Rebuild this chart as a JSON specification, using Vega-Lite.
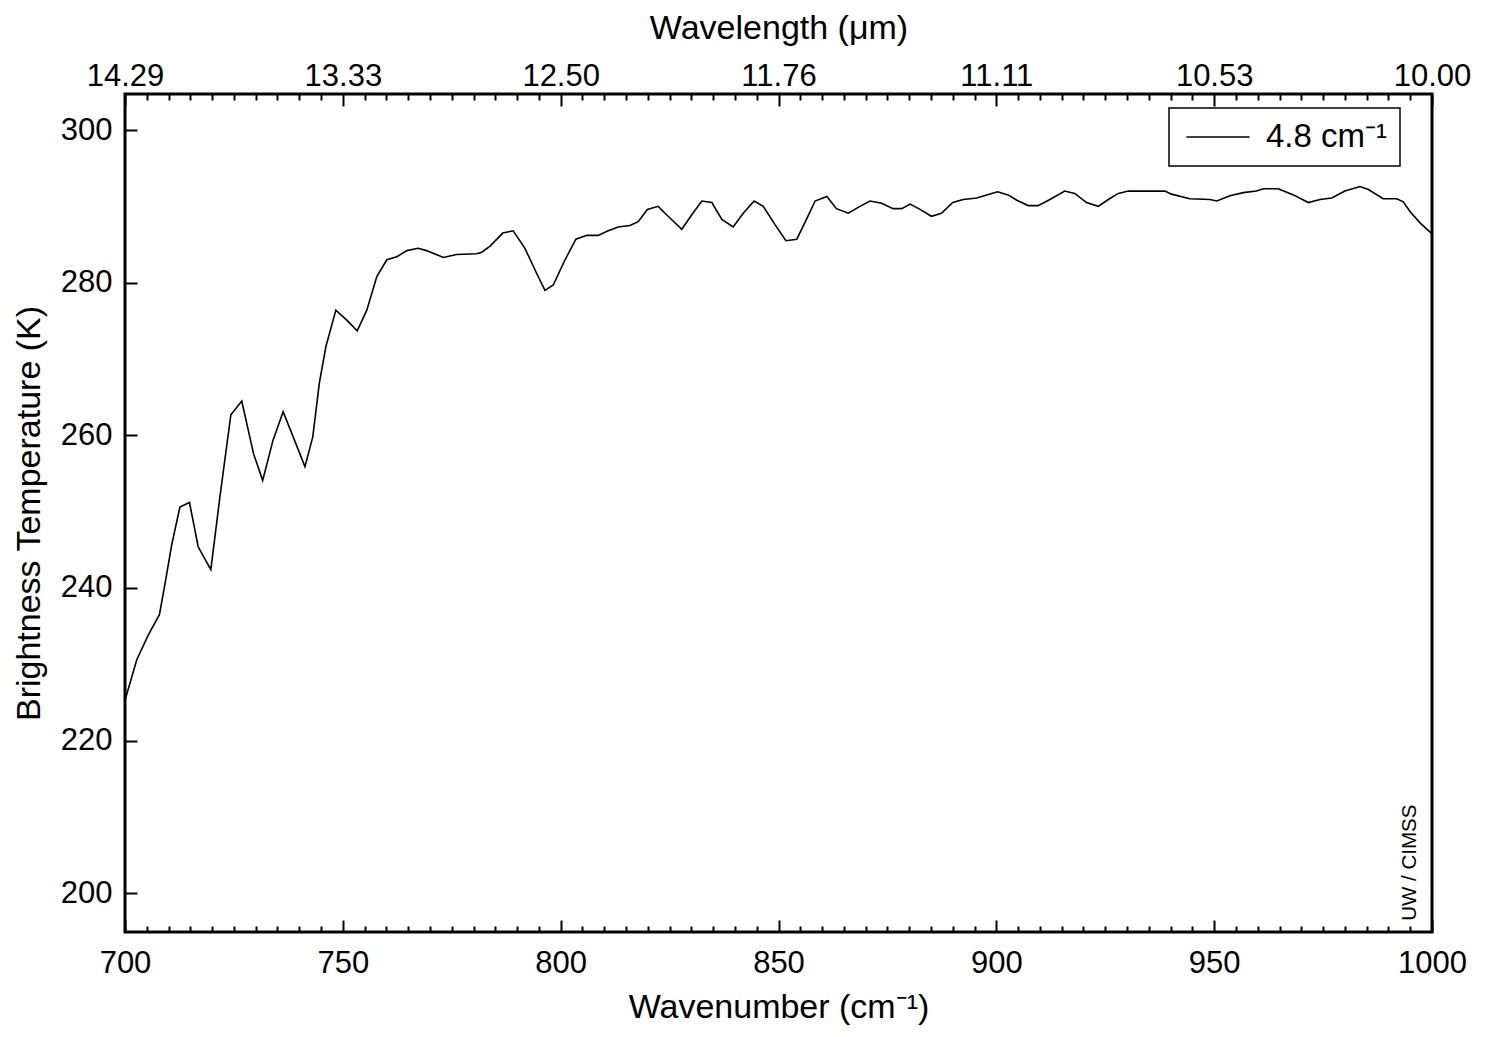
{
  "$schema": "https://vega.github.io/schema/vega-lite/v6.json",
  "width": 1307,
  "height": 838,
  "autosize": "none",
  "padding": {"left": 125, "top": 94, "right": 58, "bottom": 105},
  "background": "white",
  "config": {
    "view": {"stroke": "black", "strokeWidth": 3},
    "font": "Liberation Sans",
    "axis": {
      "grid": false,
      "domain": false,
      "tickColor": "black",
      "tickWidth": 2,
      "labelColor": "black",
      "labelFont": "Liberation Sans",
      "labelFontSize": 31,
      "labelFlush": false,
      "labelOverlap": false,
      "titleColor": "black",
      "titleFont": "Liberation Sans",
      "titleFontSize": 34,
      "titleFontWeight": "normal"
    }
  },
  "data": {
    "values": [
      {"wn": 700.0, "bt": 225.3}, {"wn": 702.7, "bt": 230.6}, {"wn": 705.3, "bt": 233.8},
      {"wn": 707.9, "bt": 236.5}, {"wn": 709.2, "bt": 240.6}, {"wn": 710.7, "bt": 245.6},
      {"wn": 712.6, "bt": 250.6}, {"wn": 714.8, "bt": 251.2}, {"wn": 716.8, "bt": 245.4},
      {"wn": 719.7, "bt": 242.4}, {"wn": 721.8, "bt": 252.0}, {"wn": 724.3, "bt": 262.7},
      {"wn": 726.8, "bt": 264.5}, {"wn": 729.5, "bt": 257.6}, {"wn": 731.6, "bt": 254.1},
      {"wn": 734.0, "bt": 259.4}, {"wn": 736.3, "bt": 263.1}, {"wn": 738.6, "bt": 259.8},
      {"wn": 741.3, "bt": 255.9}, {"wn": 743.1, "bt": 259.8}, {"wn": 744.6, "bt": 266.8},
      {"wn": 746.1, "bt": 271.6}, {"wn": 748.4, "bt": 276.4}, {"wn": 750.9, "bt": 275.1},
      {"wn": 753.3, "bt": 273.7}, {"wn": 755.5, "bt": 276.4}, {"wn": 757.8, "bt": 280.8},
      {"wn": 760.1, "bt": 283.0}, {"wn": 762.4, "bt": 283.4}, {"wn": 764.7, "bt": 284.2},
      {"wn": 767.3, "bt": 284.5}, {"wn": 769.2, "bt": 284.2}, {"wn": 773.1, "bt": 283.3},
      {"wn": 776.1, "bt": 283.7}, {"wn": 780.7, "bt": 283.8}, {"wn": 781.9, "bt": 284.0},
      {"wn": 783.8, "bt": 284.8}, {"wn": 786.7, "bt": 286.5}, {"wn": 789.1, "bt": 286.8},
      {"wn": 791.8, "bt": 284.5}, {"wn": 794.5, "bt": 281.2}, {"wn": 796.4, "bt": 279.0},
      {"wn": 798.3, "bt": 279.7}, {"wn": 801.0, "bt": 283.0}, {"wn": 803.5, "bt": 285.7},
      {"wn": 806.0, "bt": 286.2}, {"wn": 808.6, "bt": 286.2}, {"wn": 810.9, "bt": 286.8},
      {"wn": 813.2, "bt": 287.3}, {"wn": 815.9, "bt": 287.5}, {"wn": 817.8, "bt": 288.0},
      {"wn": 819.9, "bt": 289.6}, {"wn": 822.4, "bt": 290.0}, {"wn": 824.3, "bt": 288.9},
      {"wn": 827.8, "bt": 287.0}, {"wn": 830.1, "bt": 288.9}, {"wn": 832.4, "bt": 290.7},
      {"wn": 834.7, "bt": 290.5}, {"wn": 837.0, "bt": 288.3}, {"wn": 839.6, "bt": 287.3},
      {"wn": 841.9, "bt": 289.1}, {"wn": 844.4, "bt": 290.7}, {"wn": 846.5, "bt": 290.0},
      {"wn": 849.2, "bt": 287.6}, {"wn": 851.7, "bt": 285.5}, {"wn": 854.2, "bt": 285.7},
      {"wn": 856.5, "bt": 288.4}, {"wn": 858.4, "bt": 290.7}, {"wn": 861.1, "bt": 291.3},
      {"wn": 863.3, "bt": 289.7}, {"wn": 866.0, "bt": 289.1}, {"wn": 868.7, "bt": 290.0},
      {"wn": 871.0, "bt": 290.7}, {"wn": 873.7, "bt": 290.4}, {"wn": 876.3, "bt": 289.7},
      {"wn": 878.3, "bt": 289.7}, {"wn": 880.2, "bt": 290.3}, {"wn": 882.5, "bt": 289.6},
      {"wn": 885.1, "bt": 288.7}, {"wn": 887.4, "bt": 289.1}, {"wn": 890.0, "bt": 290.5},
      {"wn": 892.4, "bt": 290.9}, {"wn": 895.5, "bt": 291.1}, {"wn": 897.8, "bt": 291.5},
      {"wn": 900.3, "bt": 291.9}, {"wn": 902.7, "bt": 291.5}, {"wn": 904.7, "bt": 290.8},
      {"wn": 907.3, "bt": 290.1}, {"wn": 909.6, "bt": 290.1}, {"wn": 912.3, "bt": 290.9},
      {"wn": 915.7, "bt": 292.0}, {"wn": 918.0, "bt": 291.7}, {"wn": 920.7, "bt": 290.5},
      {"wn": 923.4, "bt": 290.0}, {"wn": 925.7, "bt": 290.9}, {"wn": 928.0, "bt": 291.7},
      {"wn": 930.3, "bt": 292.0}, {"wn": 934.5, "bt": 292.0}, {"wn": 938.7, "bt": 292.0},
      {"wn": 940.2, "bt": 291.6}, {"wn": 944.4, "bt": 291.0}, {"wn": 949.0, "bt": 290.9},
      {"wn": 950.6, "bt": 290.7}, {"wn": 953.6, "bt": 291.4}, {"wn": 956.7, "bt": 291.8},
      {"wn": 959.7, "bt": 292.0}, {"wn": 961.3, "bt": 292.3}, {"wn": 964.7, "bt": 292.3},
      {"wn": 968.2, "bt": 291.5}, {"wn": 971.6, "bt": 290.5}, {"wn": 974.3, "bt": 290.9},
      {"wn": 977.0, "bt": 291.1}, {"wn": 980.0, "bt": 292.0}, {"wn": 983.5, "bt": 292.6},
      {"wn": 985.4, "bt": 292.2}, {"wn": 988.8, "bt": 291.0}, {"wn": 991.9, "bt": 291.0},
      {"wn": 993.4, "bt": 290.6}, {"wn": 995.0, "bt": 289.3}, {"wn": 997.3, "bt": 287.8},
      {"wn": 1000.0, "bt": 286.4}
    ]
  },
  "layer": [
    {
      "mark": {"type": "line", "strokeWidth": 1.6, "interpolate": "linear"},
      "encoding": {
        "x": {
          "field": "wn", "type": "quantitative",
          "scale": {"domain": [700, 1000], "nice": false, "zero": false},
          "axis": {
            "orient": "bottom",
            "values": [700, 750, 800, 850, 900, 950, 1000],
            "format": "d",
            "tickSize": -12,
            "labelPadding": 28,
            "title": "Wavenumber (cm⁻¹)",
            "titlePadding": 12
          }
        },
        "y": {
          "field": "bt", "type": "quantitative",
          "scale": {"domain": [194.93, 304.72], "nice": false, "zero": false},
          "axis": {
            "orient": "left",
            "values": [200, 220, 240, 260, 280, 300],
            "tickSize": -12,
            "labelPadding": 25,
            "title": "Brightness Temperature (K)",
            "titlePadding": 14
          }
        },
        "color": {
          "datum": "4.8 cm⁻¹",
          "type": "nominal",
          "scale": {"range": ["black"]},
          "legend": {
            "orient": "none",
            "legendX": 1044,
            "legendY": 14,
            "title": null,
            "strokeColor": "black",
            "fillColor": "white",
            "padding": 12,
            "symbolType": "M-2,0H2",
            "symbolSize": 1000,
            "symbolStrokeWidth": 1.5,
            "symbolOffset": 20,
            "labelFont": "Liberation Sans",
            "labelFontSize": 33,
            "labelColor": "black",
            "labelOffset": 31,
            "encode": {"legend": {"update": {"strokeWidth": {"value": 1.5}}}}
          }
        }
      }
    },
    {
      "mark": {"type": "line", "strokeOpacity": 0},
      "encoding": {
        "x": {
          "field": "wn", "type": "quantitative",
          "axis": {
            "orient": "bottom",
            "values": [705, 710, 715, 720, 725, 730, 735, 740, 745, 755, 760, 765, 770, 775, 780, 785, 790, 795, 805, 810, 815, 820, 825, 830, 835, 840, 845, 855, 860, 865, 870, 875, 880, 885, 890, 895, 905, 910, 915, 920, 925, 930, 935, 940, 945, 955, 960, 965, 970, 975, 980, 985, 990, 995],
            "tickSize": -6,
            "labels": false,
            "title": null
          }
        },
        "y": {"field": "bt", "type": "quantitative", "axis": null}
      }
    },
    {
      "mark": {"type": "line", "strokeOpacity": 0},
      "encoding": {
        "x": {
          "field": "wn", "type": "quantitative",
          "axis": {
            "orient": "top",
            "values": [700, 750, 800, 850, 900, 950, 1000],
            "labelExpr": "format(10000 / datum.value, '.2f')",
            "tickSize": -12,
            "labelPadding": 14,
            "title": "Wavelength (μm)",
            "titlePadding": 15
          }
        },
        "y": {"field": "bt", "type": "quantitative", "axis": null}
      }
    },
    {
      "mark": {"type": "line", "strokeOpacity": 0},
      "encoding": {
        "x": {
          "field": "wn", "type": "quantitative",
          "axis": {
            "orient": "top",
            "values": [705, 710, 715, 720, 725, 730, 735, 740, 745, 755, 760, 765, 770, 775, 780, 785, 790, 795, 805, 810, 815, 820, 825, 830, 835, 840, 845, 855, 860, 865, 870, 875, 880, 885, 890, 895, 905, 910, 915, 920, 925, 930, 935, 940, 945, 955, 960, 965, 970, 975, 980, 985, 990, 995],
            "tickSize": -6,
            "labels": false,
            "title": null
          }
        },
        "y": {"field": "bt", "type": "quantitative", "axis": null}
      }
    },
    {
      "data": {"values": [{"note": "UW / CIMSS", "wn": 995.0, "bt": 196.4}]},
      "mark": {"type": "text", "angle": 270, "align": "left", "baseline": "middle", "fontSize": 20.5, "font": "Liberation Sans", "color": "black"},
      "encoding": {
        "x": {"field": "wn", "type": "quantitative", "axis": null},
        "y": {"field": "bt", "type": "quantitative", "axis": null},
        "text": {"field": "note"}
      }
    }
  ],
  "resolve": {"axis": {"x": "independent", "y": "independent"}}
}
